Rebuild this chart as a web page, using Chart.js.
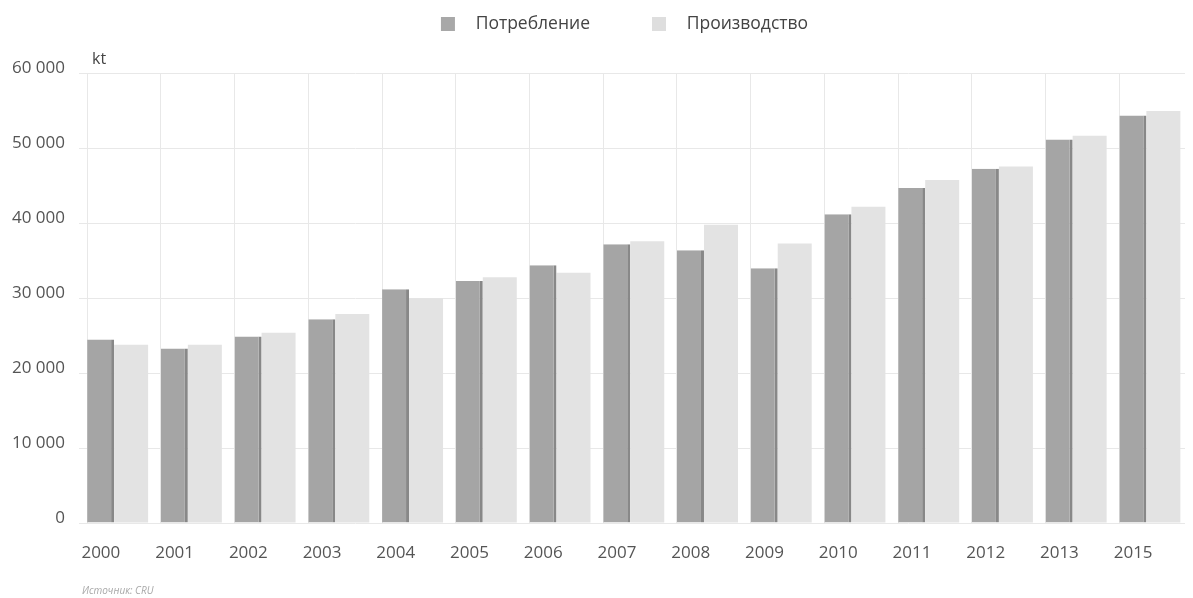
<!DOCTYPE html>
<html>
<head>
<meta charset="utf-8">
<script src="https://cdn.jsdelivr.net/npm/chart.js@4.4.1/dist/chart.umd.min.js"></script>
<style>
  html, body { margin: 0; padding: 0; background: #ffffff; }
  #wrap { position: relative; width: 1193px; height: 598px; }
  #c { display: block; }
  .unit { position: absolute; left: 92px; top: 47px; font-family: "Open Sans", sans-serif; font-size: 16px; color: #444; }
  .src { position: absolute; left: 82px; top: 583px; font-family: "Open Sans", sans-serif; font-style: italic; font-size: 10px; color: #a8a8a8; }
</style>
</head>
<body>
<div id="wrap">
  <canvas id="c" width="1193" height="598"></canvas>
  <div class="unit">kt</div>
  <div class="src">Источник: CRU</div>
</div>
<script>
const years = ['2000','2001','2002','2003','2004','2005','2006','2007','2008','2009','2010','2011','2012','2013','2015'];
const consumption = [24500, 23300, 24900, 27200, 31200, 32300, 34400, 37200, 36400, 34000, 41200, 44700, 47300, 51200, 54400];
const production  = [23800, 23800, 25400, 27900, 30000, 32800, 33400, 37600, 39800, 37300, 42200, 45800, 47600, 51700, 55000];
const seriesNames = ['Потребление', 'Производство'];
const yTicks = [0, 10000, 20000, 30000, 40000, 50000, 60000];

const DARK = '#a5a5a5';
const DARK_EDGE = '#888888';
const LIGHT = '#e3e3e3';

function swatch(color) {
  const c = document.createElement('canvas');
  c.width = 78; c.height = 14;
  const g = c.getContext('2d');
  g.fillStyle = color;
  g.fillRect(52, 0, 14, 14);
  return c;
}
const swatches = [swatch('#a8a8a8'), swatch('#dedede')];

function fmt(v) { return String(v).replace(/\B(?=(\d{3})+(?!\d))/g, ' '); }

const FONT = '"Open Sans", sans-serif';
const GRID = '#e8e8e8';

new Chart(document.getElementById('c'), {
  type: 'bar',
  data: {
    labels: years,
    datasets: [
      {
        label: seriesNames[0], data: consumption, backgroundColor: DARK,
        borderColor: DARK_EDGE, borderWidth: {top: 0, right: 3, bottom: 0, left: 0},
        borderSkipped: false, barPercentage: 0.885, categoryPercentage: 0.827
      },
      {
        label: seriesNames[1], data: production, backgroundColor: LIGHT,
        borderWidth: 0, barPercentage: 1.115, categoryPercentage: 0.827
      }
    ]
  },
  options: {
    responsive: false,
    animation: false,
    layout: { padding: { top: 5, right: 8, bottom: 35, left: 12 } },
    plugins: {
      tooltip: { enabled: false },
      legend: {
        position: 'top',
        labels: {
          usePointStyle: true,
          pointStyleWidth: 78,
          padding: 10,
          color: '#444',
          font: { family: FONT, size: 17.5 },
          generateLabels: (chart) => {
            const items = Chart.defaults.plugins.legend.labels.generateLabels(chart);
            items.forEach((it, i) => { it.pointStyle = swatches[i]; });
            return items;
          }
        }
      }
    },
    scales: {
      x: {
        type: 'category',
        offset: true,
        grid: { display: false, drawTicks: false },
        border: { display: false },
        ticks: {
          color: '#555', font: { family: FONT, size: 17 },
          padding: 20, labelOffset: -15, maxRotation: 0, autoSkip: false
        },
        afterFit: (s) => { s.height = 40; }
      },
      x2: {
        type: 'linear',
        position: 'top',
        offset: false,
        bounds: 'data',
        min: -0.11,
        max: 14.89,
        grid: { color: GRID, drawTicks: false, lineWidth: 1, offset: false },
        border: { display: false },
        ticks: { display: false },
        afterBuildTicks: (s) => { s.ticks = years.map((_, i) => ({ value: i })); },
        afterFit: (s) => { s.height = 31; }
      },
      y: {
        min: 0,
        max: 60000,
        grid: { color: GRID, drawTicks: false },
        border: { display: false },
        afterBuildTicks: (s) => { s.ticks = yTicks.map(v => ({ value: v })); },
        ticks: {
          color: '#555', font: { family: FONT, size: 17 },
          padding: 14, labelOffset: -5,
          callback: (v) => fmt(v)
        },
        afterFit: (s) => { s.width = 67; }
      }
    }
  }
});
</script>
</body>
</html>
